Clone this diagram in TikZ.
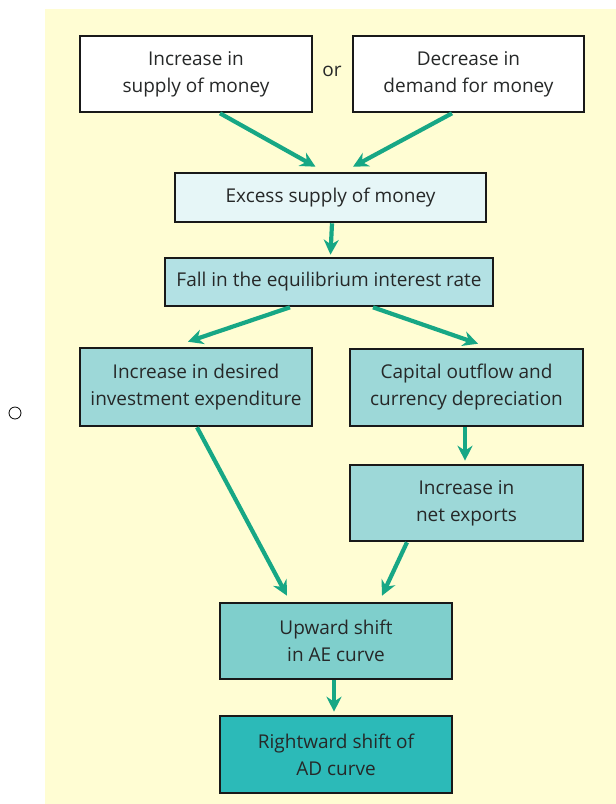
\documentclass[tikz,border=0pt]{standalone}
\usepackage{fontspec}
\setmainfont{Open Sans}
\usepackage{xcolor}
\usepackage{tikz}
\usetikzlibrary{arrows.meta}
\usetikzlibrary{positioning}

\definecolor{paper}{HTML}{FFFDD3}
\definecolor{flowgreen}{HTML}{17A785}
\definecolor{boxpale}{HTML}{E6F6F7}
\definecolor{boxlight}{HTML}{B3E1E4}
\definecolor{boxmid}{HTML}{9DD8D8}
\definecolor{boxdeep}{HTML}{7FCFCC}
\definecolor{boxdark}{HTML}{2CBAB8}
\definecolor{inkgrey}{HTML}{262828}

\begin{document}
\begin{tikzpicture}[x=1pt, y=-1pt,
        box/.style={draw=black!90, line width=2.6pt, align=center, inner sep=0pt,
            text=inkgrey, font=\fontsize{19}{27}\selectfont},
        flow/.style={draw=flowgreen, line width=4.2pt, -{Stealth[length=15pt, width=15pt]}}]
        \useasboundingbox (0,0) rectangle (616,804);
        \fill[paper] (45,9) rectangle (616,804);
        \draw[line width=0.8pt] (15,413) circle (6pt);

        % top row
        \node[box, fill=white, minimum width=232pt, minimum height=76pt] (incsup) at (196,74) {Increase in\\supply of money};
        \node[box, fill=white, minimum width=231pt, minimum height=76pt] (decdem) at (468.5,74) {Decrease in\\demand for money};
        \node[text=inkgrey, font=\fontsize{19}{27}\selectfont] (or) at (332,71) {or};

        \node[box, fill=boxpale, minimum width=311pt, minimum height=49pt] (excess) at (330.5,197.5) {Excess supply of money};
        \node[box, fill=boxlight, minimum width=328pt, minimum height=48pt] (fall) at (329,282) {Fall in the equilibrium interest rate};

        % two channels
        \node[box, fill=boxmid, minimum width=232pt, minimum height=78pt] (invest) at (196,387) {Increase in desired\\investment expenditure};
        \node[box, fill=boxmid, minimum width=233pt, minimum height=77pt] (capital) at (466.5,387.5) {Capital outflow and\\currency depreciation};
        \node[box, fill=boxmid, minimum width=233pt, minimum height=76pt] (netexp) at (466.5,503) {Increase in\\net exports};

        \node[box, fill=boxdeep, minimum width=232pt, minimum height=76pt] (aeshift) at (336,641) {Upward shift\\in AE curve};
        \node[box, fill=boxdark, minimum width=232pt, minimum height=77pt] (adshift) at (336,754.5) {Rightward shift of\\AD curve};

        \draw[flow] ([xshift=24pt]incsup.south) -- ([xshift=-15pt, yshift=5pt]excess.north);
        \draw[flow] ([xshift=-16.5pt]decdem.south) -- ([xshift=22.5pt, yshift=5pt]excess.north);
        \draw[flow] ([xshift=1.5pt]excess.south) -- ([xshift=1.5pt, yshift=2pt]fall.north);
        \draw[flow] ([xshift=-39pt]fall.south) -- ([xshift=-8pt, yshift=5pt]invest.north);
        \draw[flow] ([xshift=44pt]fall.south) -- ([xshift=11.5pt, yshift=4pt]capital.north);
        \draw[flow] ([xshift=-1.5pt]capital.south) -- ([xshift=-1.5pt, yshift=3pt]netexp.north);
        \draw[flow] ([xshift=1pt]invest.south) -- ([xshift=-49pt, yshift=6pt]aeshift.north);
        \draw[flow] ([xshift=-59.5pt]netexp.south) -- ([xshift=46pt, yshift=6pt]aeshift.north);
        \draw[flow] ([xshift=-2pt]aeshift.south) -- ([xshift=-2pt, yshift=3pt]adshift.north);
    \end{tikzpicture}
\end{document}
